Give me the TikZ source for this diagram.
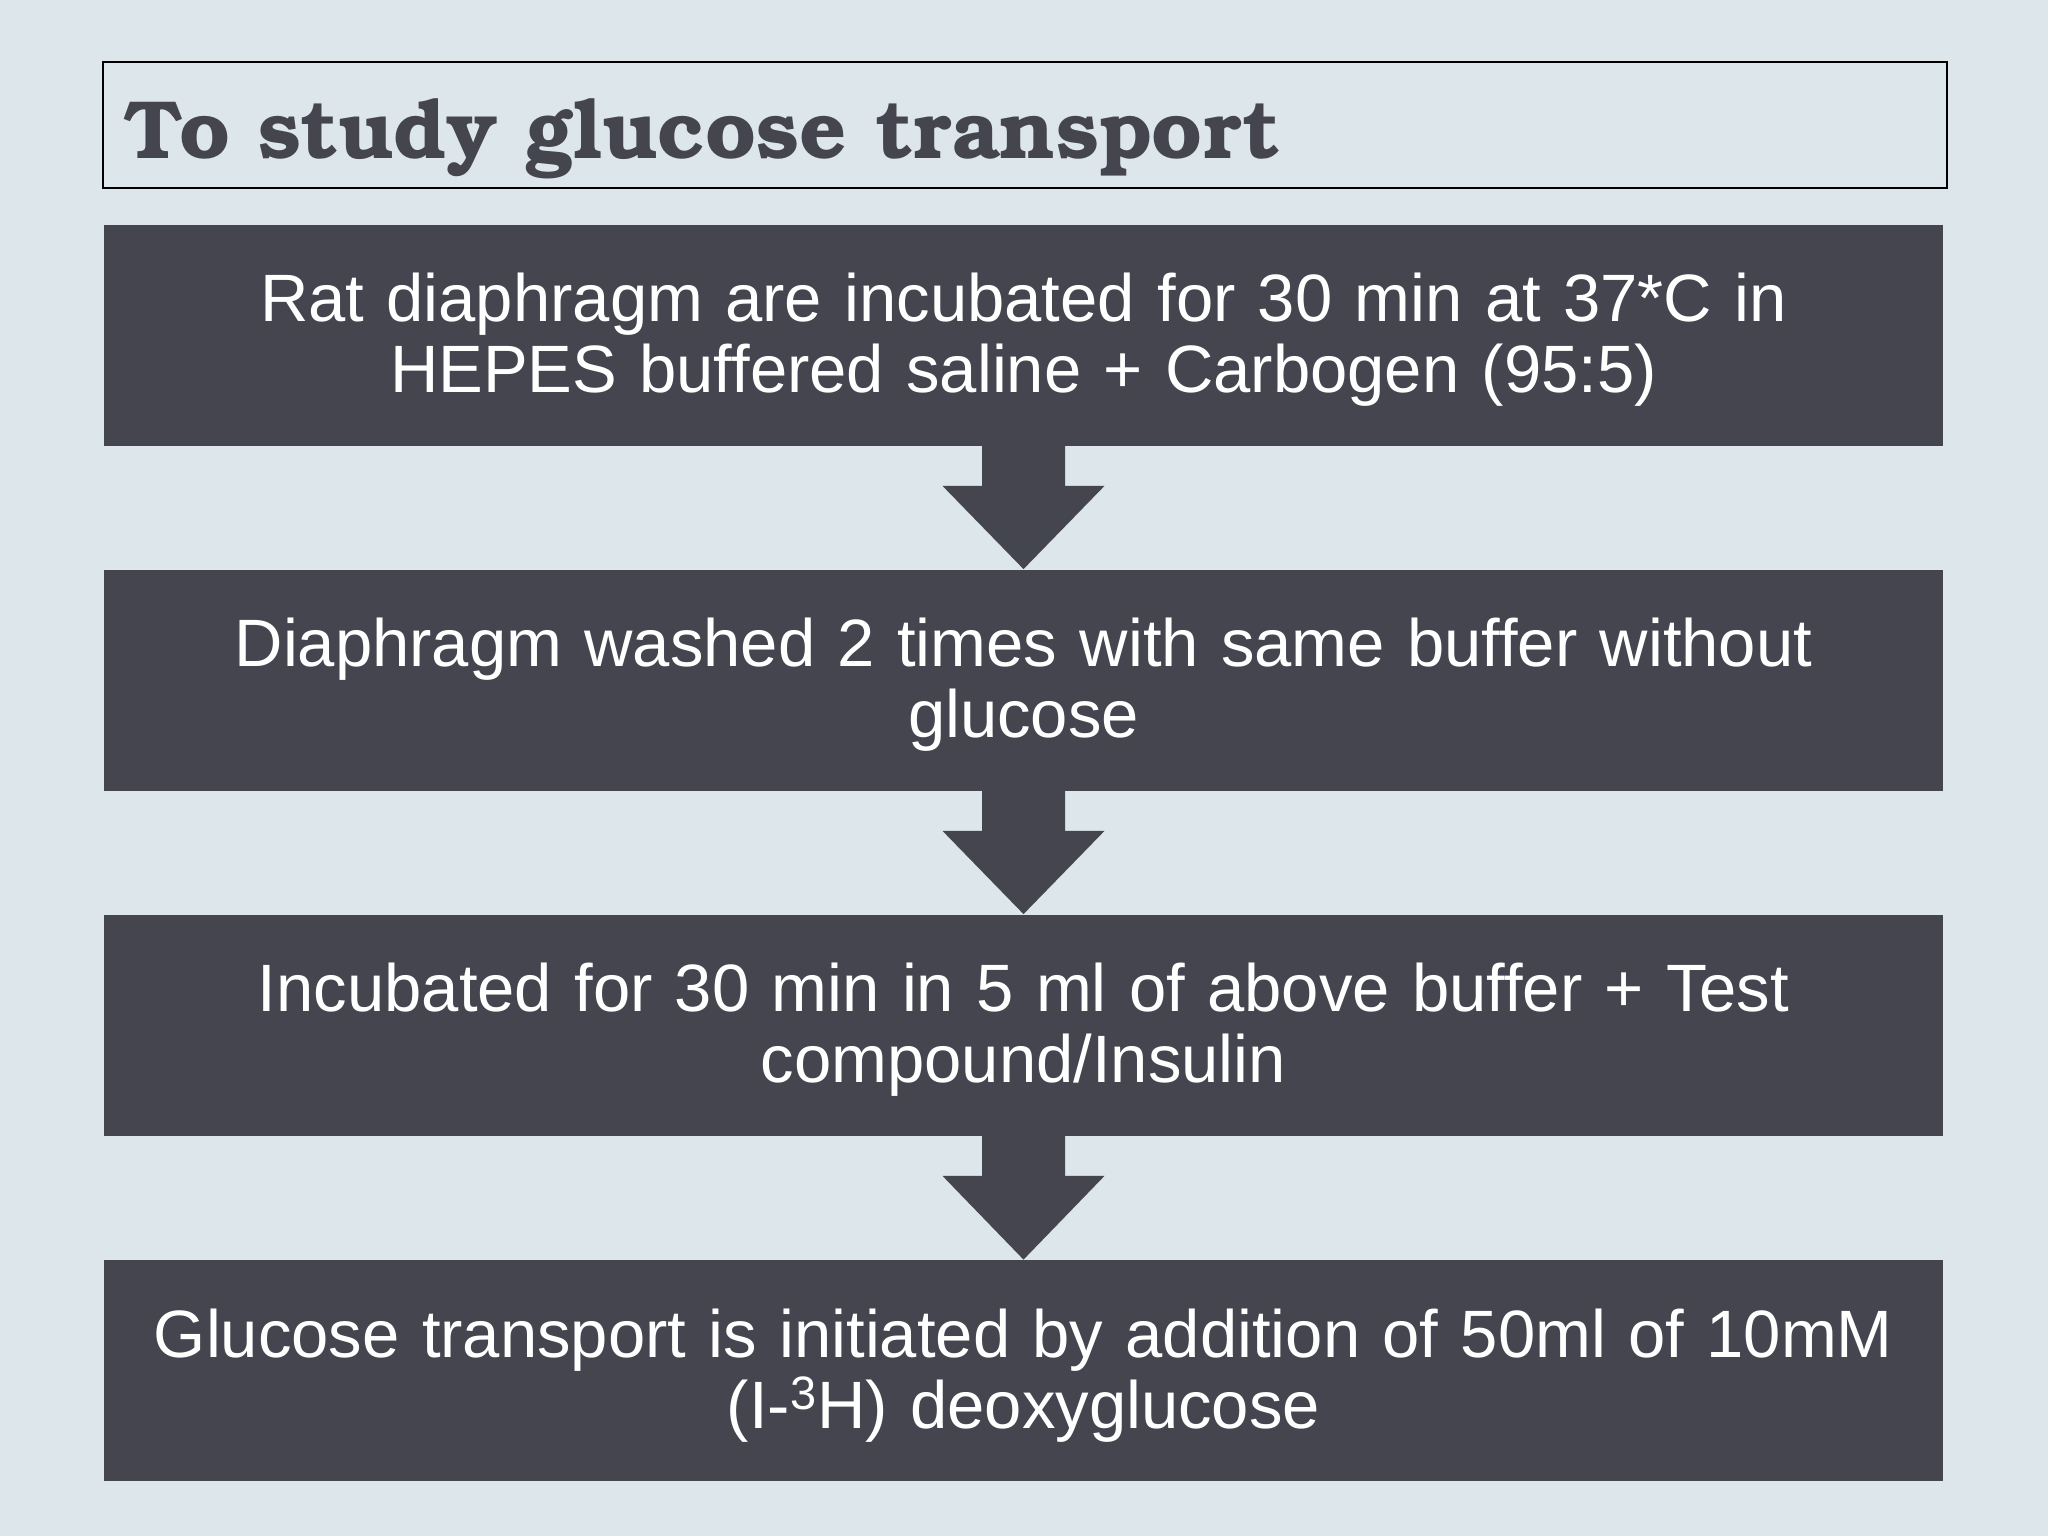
\documentclass[tikz,border=0pt]{standalone}
\usepackage{fontspec}
\setmainfont{Liberation Sans}
\newfontfamily\titlefont{texgyrebonum-bold.otf}
\usetikzlibrary{calc}
\definecolor{bg}{HTML}{DDE6EA}
\definecolor{dark}{HTML}{44454F}
\tikzset{
  stepbox/.style={fill=dark, draw=none, minimum width=1839pt*0.5, minimum height=221pt*0.5,
    inner sep=0pt, text=white, align=center, font=\fontsize{33.5pt}{35.5pt}\selectfont, text width=900pt},
  flowarrow/.style={fill=dark, draw=none}
}
\newcommand{\downarrowshape}[2]{%
  \fill[flowarrow] ($(#1.south)+(-41.5,0)$) -- ($(#1.south)+(41.5,0)$) -- ($(#1.south)+(41.5,40)$)
    -- ($(#1.south)+(81,40)$) -- (#2.north) -- ($(#1.south)+(-81,40)$) -- ($(#1.south)+(-41.5,40)$) -- cycle;}
\begin{document}
\begin{tikzpicture}[x=0.5pt,y=-0.5pt]
\fill[bg] (0,0) rectangle (2048,1536);
\useasboundingbox (0,0) rectangle (2048,1536);
\node[draw=black, line width=1pt, fill=bg, minimum width=1844pt*0.5, minimum height=126pt*0.5, inner sep=0pt, anchor=north west] (title) at (102,61) {};
\node[anchor=base west, inner sep=0pt, text=dark, font={\titlefont\fontsize{41.3pt}{41.3pt}\selectfont}] (titletext) at (124,158) {To study glucose transport};
\node[stepbox] (b1) at (1023.5,335) {};
\node[stepbox] (b2) at (1023.5,680) {};
\node[stepbox] (b3) at (1023.5,1025) {};
\node[stepbox] (b4) at (1023.5,1370.5) {};
\node[stepbox, fill=none, minimum height=0pt, anchor=base] (t1) at (1023.5,321) {Rat diaphragm are incubated for 30 min at 37*C in\\HEPES buffered saline + Carbogen (95:5)};
\node[stepbox, fill=none, minimum height=0pt, anchor=base] (t2) at (1023.5,666) {Diaphragm washed 2 times with same buffer without\\glucose};
\node[stepbox, fill=none, minimum height=0pt, anchor=base] (t3) at (1023.5,1011) {Incubated for 30 min in 5 ml of above buffer + Test\\compound/Insulin};
\node[stepbox, fill=none, minimum height=0pt, anchor=base] (t4) at (1023.5,1357) {Glucose transport is initiated by addition of 50ml of 10mM\\(I-\textsuperscript{3}H) deoxyglucose};
\downarrowshape{b1}{b2}
\downarrowshape{b2}{b3}
\downarrowshape{b3}{b4}
\end{tikzpicture}
\end{document}
